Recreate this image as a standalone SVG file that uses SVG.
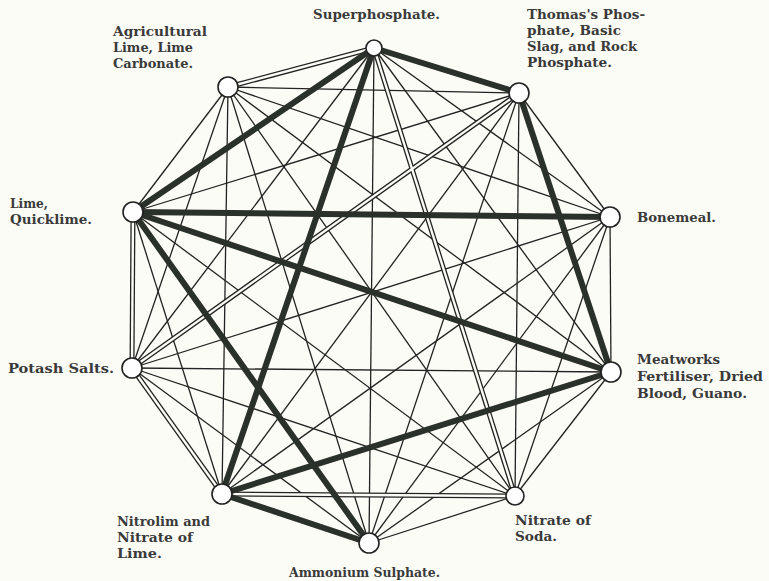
<svg xmlns="http://www.w3.org/2000/svg" width="769" height="581" viewBox="0 0 769 581">
<style>
.bg{fill:#fcfcf6}
.thin{stroke:#222;stroke-width:1.3;fill:none}
.dblo{stroke:#222;stroke-width:5;fill:none}
.dbli{stroke:#fcfcf6;stroke-width:2.4;fill:none}
.thick{stroke:#2a302a;stroke-width:6;fill:none;stroke-linecap:butt}
.node{fill:#fff;stroke:#222;stroke-width:1.6}
.lbl{font-family:"DejaVu Serif","Liberation Serif",serif;font-size:12.5px;font-weight:bold;fill:#3a3a3a}
</style>
<rect class="bg" x="0" y="0" width="769" height="581"/>
<g id="connectors">
<g id="thin-lines">
<line class="thin" x1="374" y1="48" x2="610" y2="217"/>
<line class="thin" x1="374" y1="48" x2="611" y2="372"/>
<line class="thin" x1="374" y1="48" x2="369" y2="543"/>
<line class="thin" x1="374" y1="48" x2="132" y2="368"/>
<line class="thin" x1="519" y1="93" x2="610" y2="217"/>
<line class="thin" x1="519" y1="93" x2="515" y2="496"/>
<line class="thin" x1="519" y1="93" x2="369" y2="543"/>
<line class="thin" x1="519" y1="93" x2="222" y2="494"/>
<line class="thin" x1="519" y1="93" x2="133" y2="212"/>
<line class="thin" x1="519" y1="93" x2="228" y2="87"/>
<line class="thin" x1="610" y1="217" x2="611" y2="372"/>
<line class="thin" x1="610" y1="217" x2="515" y2="496"/>
<line class="thin" x1="610" y1="217" x2="369" y2="543"/>
<line class="thin" x1="610" y1="217" x2="222" y2="494"/>
<line class="thin" x1="610" y1="217" x2="132" y2="368"/>
<line class="thin" x1="610" y1="217" x2="228" y2="87"/>
<line class="thin" x1="611" y1="372" x2="515" y2="496"/>
<line class="thin" x1="611" y1="372" x2="369" y2="543"/>
<line class="thin" x1="611" y1="372" x2="132" y2="368"/>
<line class="thin" x1="611" y1="372" x2="228" y2="87"/>
<line class="thin" x1="515" y1="496" x2="369" y2="543"/>
<line class="thin" x1="515" y1="496" x2="132" y2="368"/>
<line class="thin" x1="515" y1="496" x2="133" y2="212"/>
<line class="thin" x1="515" y1="496" x2="228" y2="87"/>
<line class="thin" x1="369" y1="543" x2="132" y2="368"/>
<line class="thin" x1="369" y1="543" x2="228" y2="87"/>
<line class="thin" x1="222" y1="494" x2="133" y2="212"/>
<line class="thin" x1="222" y1="494" x2="228" y2="87"/>
<line class="thin" x1="132" y1="368" x2="228" y2="87"/>
<line class="thin" x1="133" y1="212" x2="228" y2="87"/>
</g>
<g id="double-lines">
<line class="dblo" x1="374" y1="48" x2="228" y2="87"/>
<line class="dblo" x1="374" y1="48" x2="515" y2="496"/>
<line class="dblo" x1="133" y1="212" x2="132" y2="368"/>
<line class="dblo" x1="132" y1="368" x2="519" y2="93"/>
<line class="dblo" x1="132" y1="368" x2="222" y2="494"/>
<line class="dblo" x1="222" y1="494" x2="515" y2="496"/>
<line class="dbli" x1="374" y1="48" x2="228" y2="87"/>
<line class="dbli" x1="374" y1="48" x2="515" y2="496"/>
<line class="dbli" x1="133" y1="212" x2="132" y2="368"/>
<line class="dbli" x1="132" y1="368" x2="519" y2="93"/>
<line class="dbli" x1="132" y1="368" x2="222" y2="494"/>
<line class="dbli" x1="222" y1="494" x2="515" y2="496"/>
</g>
<g id="thick-lines">
<line class="thick" x1="374" y1="48" x2="519" y2="93"/>
<line class="thick" x1="374" y1="48" x2="133" y2="212"/>
<line class="thick" x1="374" y1="48" x2="222" y2="494"/>
<line class="thick" x1="519" y1="93" x2="611" y2="372"/>
<line class="thick" x1="222" y1="494" x2="611" y2="372"/>
<line class="thick" x1="222" y1="494" x2="369" y2="543"/>
<line class="thick" x1="133" y1="212" x2="369" y2="543"/>
<line class="thick" x1="133" y1="212" x2="611" y2="372"/>
<line class="thick" x1="133" y1="212" x2="610" y2="217"/>
</g>
</g>
<g id="n-superphosphate">
<circle class="node" cx="374" cy="48" r="8"/>
<text class="lbl" x="313" y="19" textLength="127" lengthAdjust="spacingAndGlyphs">Superphosphate.</text>
</g>
<g id="n-thomas">
<circle class="node" cx="519" cy="93" r="10"/>
<text class="lbl" x="527" y="19" textLength="118" lengthAdjust="spacingAndGlyphs">Thomas's Phos-</text>
<text class="lbl" x="527" y="35" textLength="94" lengthAdjust="spacingAndGlyphs">phate, Basic</text>
<text class="lbl" x="527" y="51" textLength="110" lengthAdjust="spacingAndGlyphs">Slag, and Rock</text>
<text class="lbl" x="527" y="67" textLength="85" lengthAdjust="spacingAndGlyphs">Phosphate.</text>
</g>
<g id="n-bonemeal">
<circle class="node" cx="610" cy="217" r="10"/>
<text class="lbl" x="637" y="222" textLength="79" lengthAdjust="spacingAndGlyphs">Bonemeal.</text>
</g>
<g id="n-meatworks">
<circle class="node" cx="611" cy="372" r="10"/>
<text class="lbl" x="637" y="364" textLength="83" lengthAdjust="spacingAndGlyphs">Meatworks</text>
<text class="lbl" x="637" y="381" textLength="126" lengthAdjust="spacingAndGlyphs">Fertiliser, Dried</text>
<text class="lbl" x="637" y="398" textLength="110" lengthAdjust="spacingAndGlyphs">Blood, Guano.</text>
</g>
<g id="n-nitrate-soda">
<circle class="node" cx="515" cy="496" r="9"/>
<text class="lbl" x="515" y="525" textLength="76" lengthAdjust="spacingAndGlyphs">Nitrate of</text>
<text class="lbl" x="515" y="541" textLength="42" lengthAdjust="spacingAndGlyphs">Soda.</text>
</g>
<g id="n-ammonium">
<circle class="node" cx="369" cy="543" r="10"/>
<text class="lbl" x="289" y="577" textLength="151" lengthAdjust="spacingAndGlyphs">Ammonium Sulphate.</text>
</g>
<g id="n-nitrolim">
<circle class="node" cx="222" cy="494" r="10"/>
<text class="lbl" x="117" y="526" textLength="93" lengthAdjust="spacingAndGlyphs">Nitrolim and</text>
<text class="lbl" x="117" y="542" textLength="76" lengthAdjust="spacingAndGlyphs">Nitrate of</text>
<text class="lbl" x="117" y="558" textLength="45" lengthAdjust="spacingAndGlyphs">Lime.</text>
</g>
<g id="n-potash">
<circle class="node" cx="132" cy="368" r="10"/>
<text class="lbl" x="8" y="373" textLength="106" lengthAdjust="spacingAndGlyphs">Potash Salts.</text>
</g>
<g id="n-lime">
<circle class="node" cx="133" cy="212" r="10"/>
<text class="lbl" x="10" y="208" textLength="38" lengthAdjust="spacingAndGlyphs">Lime,</text>
<text class="lbl" x="10" y="224" textLength="82" lengthAdjust="spacingAndGlyphs">Quicklime.</text>
</g>
<g id="n-agri-lime">
<circle class="node" cx="228" cy="87" r="10"/>
<text class="lbl" x="113" y="36" textLength="94" lengthAdjust="spacingAndGlyphs">Agricultural</text>
<text class="lbl" x="113" y="52" textLength="80" lengthAdjust="spacingAndGlyphs">Lime, Lime</text>
<text class="lbl" x="113" y="68" textLength="80" lengthAdjust="spacingAndGlyphs">Carbonate.</text>
</g>
</svg>
